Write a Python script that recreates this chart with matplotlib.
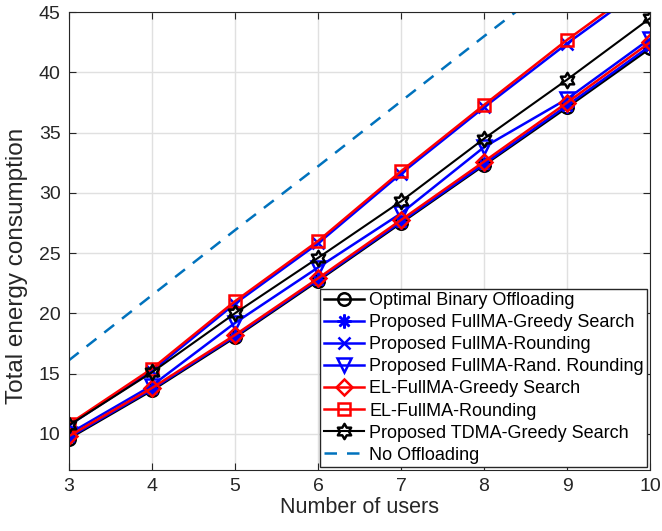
import numpy as np
import matplotlib.pyplot as plt
from matplotlib.path import Path

plt.rcParams['font.family'] = ['Liberation Sans', 'DejaVu Sans']

users = [3, 4, 5, 6, 7, 8, 9, 10]

optimal_binary = [9.6, 13.6, 18.0, 22.7, 27.5, 32.3, 37.1, 42.0]
fullma_greedy = [9.7, 13.7, 18.1, 22.8, 27.6, 32.4, 37.25, 42.2]
fullma_rounding = [10.7, 15.2, 20.8, 25.8, 31.6, 37.1, 42.4, 47.4]
fullma_rand_rounding = [10.0, 14.0, 19.2, 23.8, 28.3, 33.8, 37.8, 42.8]
el_greedy = [9.8, 13.8, 18.2, 22.9, 27.75, 32.6, 37.5, 42.5]
el_rounding = [10.8, 15.4, 21.0, 26.0, 31.8, 37.3, 42.7, 47.7]
tdma_greedy = [10.7, 15.1, 20.0, 24.6, 29.3, 34.5, 39.4, 44.5]
no_offloading = [16.1, 21.5, 26.9, 32.2, 37.6, 43.0, 48.3, 53.7]


def hexagram():
    # six-pointed star outline, like matlab's 'hexagram'
    pts = []
    for k in range(12):
        ang = np.pi / 2 + k * np.pi / 6
        r = 1.0 if k % 2 == 0 else 1 / np.sqrt(3)
        pts.append((r * np.cos(ang), r * np.sin(ang)))
    pts.append(pts[0])
    codes = [Path.MOVETO] + [Path.LINETO] * 11 + [Path.CLOSEPOLY]
    return Path(pts, codes)


asterisk = (8, 2, 0)

series = [
    ('Optimal Binary Offloading', optimal_binary, 'k', 'o', 9, '-', 1.8),
    ('Proposed FullMA-Greedy Search', fullma_greedy, 'b', asterisk, 10, '-', 1.8),
    ('Proposed FullMA-Rounding', fullma_rounding, 'b', 'x', 9, '-', 1.8),
    ('Proposed FullMA-Rand. Rounding', fullma_rand_rounding, 'b', 'v', 10, '-', 1.8),
    ('EL-FullMA-Greedy Search', el_greedy, 'r', 'D', 8, '-', 1.8),
    ('EL-FullMA-Rounding', el_rounding, 'r', 's', 8, '-', 1.8),
    ('Proposed TDMA-Greedy Search', tdma_greedy, 'k', hexagram(), 11, '-', 1.5),
    ('No Offloading', no_offloading, '#0072BD', None, 0, '--', 1.8),
]

fig = plt.figure(figsize=(6.62, 5.31), dpi=100)
ax = fig.add_axes([0.104, 0.115, 0.878, 0.862])

for label, vals, color, marker, ms, ls, lw in series:
    ax.plot(users, vals, color=color, marker=marker, linestyle=ls, linewidth=lw,
            markersize=ms, markerfacecolor='none', markeredgewidth=1.8,
            label=label, dashes=(5, 4) if ls == '--' else (None, None))

ax.set_xlim(3, 10)
ax.set_ylim(7, 45)
ax.set_xticks(users)
ax.set_yticks(np.arange(10, 46, 5))
ax.grid(True, color='#e0e0e0', linewidth=1)
ax.set_axisbelow(True)
ax.tick_params(direction='in', top=True, right=True, labelsize=14, length=5,
               colors='#262626', labelcolor='#262626', pad=6)
for s in ax.spines.values():
    s.set_color('#262626')
ax.set_xlabel('Number of users', fontsize=15.5, labelpad=1, color='#262626')
ax.set_ylabel('Total energy consumption', fontsize=17.5, color='#262626')
ax.yaxis.set_label_coords(-0.07, 0.445)

leg = ax.legend(loc='lower right', fontsize=13, fancybox=False, framealpha=1,
                edgecolor='#262626', borderpad=0.2, labelspacing=0.28,
                handlelength=2.2, handletextpad=0.3, borderaxespad=0.15)
leg.get_frame().set_linewidth(1)

fig.savefig('out.png', dpi=100)
